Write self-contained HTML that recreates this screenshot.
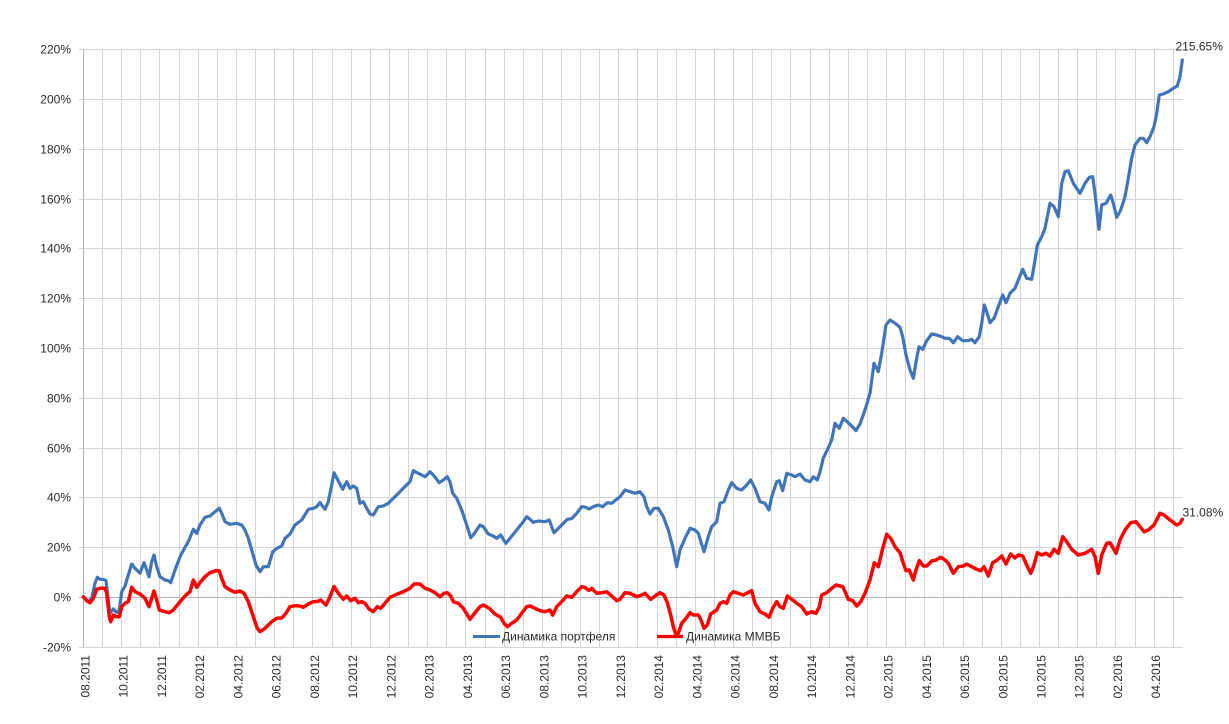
<!DOCTYPE html>
<html>
<head>
<meta charset="utf-8">
<style>
html,body{margin:0;padding:0;background:#fff;}
svg{display:block;}
text{font-family:"Liberation Sans",Arial,sans-serif;font-size:12px;fill:#2b2b2b;}
</style>
</head>
<body>
<svg width="1229" height="724" viewBox="0 0 1229 724" xmlns="http://www.w3.org/2000/svg">
<path fill="none" stroke="#d4d4d4" stroke-width="1" shape-rendering="crispEdges" d="M102.5 49V647M121.5 49V647M140.5 49V647M159.5 49V647M179.5 49V647M198.5 49V647M217.5 49V647M236.5 49V647M255.5 49V647M274.5 49V647M293.5 49V647M312.5 49V647M332.5 49V647M351.5 49V647M370.5 49V647M389.5 49V647M408.5 49V647M427.5 49V647M446.5 49V647M465.5 49V647M485.5 49V647M504.5 49V647M523.5 49V647M542.5 49V647M561.5 49V647M580.5 49V647M599.5 49V647M618.5 49V647M637.5 49V647M657.5 49V647M676.5 49V647M695.5 49V647M714.5 49V647M733.5 49V647M752.5 49V647M771.5 49V647M790.5 49V647M810.5 49V647M829.5 49V647M848.5 49V647M867.5 49V647M886.5 49V647M905.5 49V647M924.5 49V647M943.5 49V647M963.5 49V647M982.5 49V647M1001.5 49V647M1020.5 49V647M1039.5 49V647M1058.5 49V647M1077.5 49V647M1096.5 49V647M1115.5 49V647M1135.5 49V647M1154.5 49V647M1173.5 49V647M79 647.5H1183M79 547.5H1183M79 497.5H1183M79 448.5H1183M79 398.5H1183M79 348.5H1183M79 298.5H1183M79 248.5H1183M79 199.5H1183M79 149.5H1183M79 99.5H1183M79 49.5H1183"/>
<path fill="none" stroke="#b5b5b5" stroke-width="1" shape-rendering="crispEdges" d="M79 597.5H1183M83.5 49V647"/>
<g text-anchor="end">
<text x="71" y="53.5">220%</text>
<text x="71" y="103.5">200%</text>
<text x="71" y="153.5">180%</text>
<text x="71" y="203.5">160%</text>
<text x="71" y="252.5">140%</text>
<text x="71" y="302.5">120%</text>
<text x="71" y="352.5">100%</text>
<text x="71" y="402.5">80%</text>
<text x="71" y="452.5">60%</text>
<text x="71" y="501.5">40%</text>
<text x="71" y="551.5">20%</text>
<text x="71" y="601.5">0%</text>
<text x="71" y="651.5">-20%</text>
</g>
<g text-anchor="end">
<text transform="translate(89.5,655) rotate(-90)">08.2011</text>
<text transform="translate(127.7,655) rotate(-90)">10.2011</text>
<text transform="translate(166,655) rotate(-90)">12.2011</text>
<text transform="translate(204.2,655) rotate(-90)">02.2012</text>
<text transform="translate(242.5,655) rotate(-90)">04.2012</text>
<text transform="translate(280.7,655) rotate(-90)">06.2012</text>
<text transform="translate(318.9,655) rotate(-90)">08.2012</text>
<text transform="translate(357.2,655) rotate(-90)">10.2012</text>
<text transform="translate(395.4,655) rotate(-90)">12.2012</text>
<text transform="translate(433.7,655) rotate(-90)">02.2013</text>
<text transform="translate(471.9,655) rotate(-90)">04.2013</text>
<text transform="translate(510.1,655) rotate(-90)">06.2013</text>
<text transform="translate(548.4,655) rotate(-90)">08.2013</text>
<text transform="translate(586.6,655) rotate(-90)">10.2013</text>
<text transform="translate(624.9,655) rotate(-90)">12.2013</text>
<text transform="translate(663.1,655) rotate(-90)">02.2014</text>
<text transform="translate(701.3,655) rotate(-90)">04.2014</text>
<text transform="translate(739.6,655) rotate(-90)">06.2014</text>
<text transform="translate(777.8,655) rotate(-90)">08.2014</text>
<text transform="translate(816.1,655) rotate(-90)">10.2014</text>
<text transform="translate(854.3,655) rotate(-90)">12.2014</text>
<text transform="translate(892.5,655) rotate(-90)">02.2015</text>
<text transform="translate(930.8,655) rotate(-90)">04.2015</text>
<text transform="translate(969,655) rotate(-90)">06.2015</text>
<text transform="translate(1007.3,655) rotate(-90)">08.2015</text>
<text transform="translate(1045.5,655) rotate(-90)">10.2015</text>
<text transform="translate(1083.7,655) rotate(-90)">12.2015</text>
<text transform="translate(1122,655) rotate(-90)">02.2016</text>
<text transform="translate(1160.2,655) rotate(-90)">04.2016</text>
</g>
<polyline fill="none" stroke="#4174b9" stroke-width="3.2" stroke-linejoin="round" stroke-linecap="round" points="83.3,596.7 88.3,601.7 91.7,598.3 95,583.3 97.3,577.3 100,579.3 103.3,579.3 106,580.7 108.3,600 110,613.3 113.3,609 116.7,612.7 119.3,610 121.7,591.7 125,586 128.3,575 131.7,564 135,568.3 140,573.3 144,562.7 146.7,570 149,576.7 151.7,561.7 154,555 156.7,566.7 160,576.7 165,580 168.3,580.7 170.7,582.7 175,570 180,556.7 185,547.3 188.3,541.7 193.3,529.3 196.7,533.3 200,525 205,517.3 210,516 215,511.7 219.3,508.3 221.7,513.3 225,521.7 230,524.3 236.7,523.3 241.7,525 245,530 248.3,538.3 251.7,550 256,565 260,571.7 263.3,566.7 268.3,566.7 272.7,551.7 276.7,548.3 281.7,546 285,538.3 290,534 295,525 301.7,520 308.3,509.3 313.3,508.3 316.7,506.7 320,502.7 325,509.3 328.3,501.7 331.7,485 334,472.7 338.3,481 342.7,489.3 346.7,481.7 350,488.3 353.3,486 356.7,488.3 360,503.3 363.3,501.7 366.7,508.3 370,514 373.3,515 378.3,506.7 383.3,506 388.3,503.3 396.7,495 403.3,488.3 410,481.7 413.3,470.7 418.3,473.3 425,476.7 430,471.7 433.3,475 439.3,482.7 443.3,480 447.3,476.7 450,481.7 452.7,493.3 456.7,498.3 461.7,510 466.7,525 470.7,537.7 474,534 480,525 483.3,526.7 488.3,534 493.3,536 496.7,538.3 500.7,535 503.3,539.3 506,543.3 510,538.3 516.7,530 523.3,521.7 526.7,516.7 530,519.3 533.3,522.3 538.3,521 545,521.7 549.3,520 551.7,526.7 554,532.7 556.7,530 561.7,525 567.3,519.3 571.7,518.7 576.7,513.3 581.7,506.7 585,507 589,509 593.3,506.7 598.3,505 602.7,506.7 607.3,502.7 611.7,503.3 616.7,499.3 620,496.7 625,490 630,491.7 635,493.3 640,491.7 644,496.7 646.7,506.7 650,514 654,508.3 658.3,508.3 663.3,516.7 668.3,530 672.7,546.7 676.7,566.7 680,550 685,538.3 690,528.3 695,530 698.3,533.3 704,551.7 708.3,536.7 711.7,526.7 716.7,521.7 720,503.3 724,501.7 728.3,490 731.7,482.7 736.7,488.3 741.7,490 746.7,485 750.7,480 755,488.3 760,501.7 765,503.3 769,510 771.7,496.7 776.7,481.7 779.3,480.7 782.7,490.7 786.7,473.3 791.7,475 795,476.7 800,474 805,480 810,481.7 813.3,476.7 817.3,480 820,472 823.3,458 827.3,450 831.7,440 835,423.3 839.3,428.3 843.3,418.3 848.3,422.7 853.3,427.7 856,430.7 860,424 865,410 870,393.3 874,363.3 878.3,371.7 881.7,353.3 886,325 890,320 895,323.3 900,327.3 902.7,336.7 906,355 910,370 913.3,378.3 916.7,358.3 919,346.7 922.7,349.3 926.7,340.7 931.7,334 936.7,335 941.7,336.7 945,338.3 949.3,338.3 953.3,342.7 957.7,336.7 962.7,340.7 968.3,340.7 971.7,339.3 975,342.7 979.3,336.7 981.7,323.3 984.3,305 986.7,311.7 990,322.7 994,318.3 998.3,306.7 1002.7,295 1006,302.7 1010,293.3 1015,288.3 1018.3,280 1022.7,269.3 1026.7,278.3 1031.7,279.3 1035,260 1037.3,245 1041.7,236.7 1045,228.3 1050,203.3 1054,206.7 1058.3,216.7 1061.7,183.3 1065,171.7 1068.3,170.7 1073.3,183.3 1080,193.3 1085,183.3 1089.3,177.3 1092.7,176.7 1095,193.3 1099,229.3 1101.7,205 1106,203.3 1110.7,195 1113.3,203.3 1116.7,217.3 1120.7,210 1125,196.7 1128.3,178.3 1131.7,158 1135,145 1140,138.3 1143.3,138.3 1146.7,142.7 1150,136.7 1154,126.7 1156.7,113.3 1159.3,95 1163.3,94 1168.3,91.7 1173.3,88.3 1177.3,86 1180,76.7 1182.3,60"/>
<polyline fill="none" stroke="#ff0000" stroke-width="3.5" stroke-linejoin="round" stroke-linecap="round" points="83.3,596.7 86.7,600.7 90,602.7 93.3,598.3 96.7,589.3 100,588.3 105,588.3 106.7,593.3 109.3,616.7 110.7,621.7 113.3,615 116,616.7 119.3,616.7 121.7,606.7 125,603.3 128.3,601.7 131.7,587.3 135,591.7 140,594 145,598.3 149,606.7 151.7,598.3 154,591 156.7,600 159.3,610 165,611.7 169.3,612.7 173.3,610 180,601.7 186,595 190,591.7 193.3,580 196.7,587.3 200.7,581.7 205,576.7 210,572.7 216,570.7 219.3,571 221.7,578.3 225,586.7 230,590 235,592.3 240,591 244,593.3 248.3,601.7 253.3,616.7 257.3,628.3 260,631.7 265,628.3 271.7,621.7 276.7,618.3 281.7,618 286,613.3 290,606.7 295,605.7 300,606 303.3,607.3 308.3,604 313.3,601.7 318.3,601.3 320.7,600 326,605 330,596.7 334,586.5 338.3,593.3 343.3,599.3 346.7,596 350.7,600.7 355,598.3 358.3,602.7 361.7,601.7 365,603.3 369.3,609.3 373.3,611.7 377.3,606.7 380.7,608.3 385,603.3 390,597.3 396.7,594.3 403.3,591.7 410,588.3 414,584 420,584 425,588.3 430,590 435,592.7 440,596.7 444,593.3 447.3,592.7 450.7,596 453.3,601.7 458.3,603.3 463.3,608.3 470,619.3 475,612.7 480,606.7 483.3,605 489.3,608.3 495,614 500.7,617.3 504,623.3 507.3,626.7 511.7,623.3 516.7,620 521.7,613.3 526.7,606.7 530,606 535,608.3 540,610.7 545,611.7 550,610 552.7,615 556.7,606.7 561.7,601.7 566.7,596 571.7,597.3 576.7,591.7 581.7,586.7 585,587.5 589,590.5 591.7,588.3 596.7,593.3 601.7,592.7 606.7,591.7 611.7,596 616.7,600.7 620,599.3 625,592.7 630,593.3 636.7,596.7 641.7,595 645,593.3 650.7,599.3 655,596 660,592.7 664,595 667.3,602.7 670.7,615 673.3,626.7 676,635 678.3,633.3 681.7,623.3 686,618.3 690,612.7 693.3,615 698.3,615 700.7,619.3 704,628.3 707.3,625 710.7,614 716.7,610 720,603.3 723.3,601.7 726.7,603.3 730,595 733.3,591.7 738.3,593.3 743.3,595 747.7,592.7 751.7,590.7 755,603.3 760,611.7 765,614 769,617.3 772.7,608.3 776.7,601.7 780,606.7 783.3,608.3 787.3,596 791.7,599.3 796.7,603.3 801.7,606.7 806.7,614 811.7,611.7 816,613.3 819.3,606.7 821.7,595 826.7,592.7 831.7,588.3 836,585 840,586 842.7,586.7 845,591.7 848.3,599.3 852.7,600.7 856.7,606 860.7,601.7 865,593.3 870,580 874.3,562.7 878.3,566.7 882.7,548.3 886.7,534.3 890.7,538.3 895,546.7 900,552.7 903.3,563.3 906,570.7 909.3,570 913.3,580 916,570 919.3,560.7 923.3,566 926.7,566 931.7,561 936,560 940.7,557.3 945,560 948.3,563.3 953.3,573.3 958.3,566.7 963.3,566 966.7,564 971.7,566.7 976.7,569.3 980.7,570.7 984,566.7 988.3,576 992.7,562.7 997.3,560 1001.7,556 1006,564 1010.7,554 1015,558 1018.3,555 1022.7,556 1026.7,565 1030.7,573.3 1034,565 1037.3,552.7 1041.7,555 1046,553.3 1050,556 1054,549.3 1058.3,553.3 1062.7,536.7 1066.7,541.7 1071.7,549.3 1078.3,555 1085,553.3 1091.7,549.3 1095,556.7 1098.3,573.3 1101.7,555 1106.7,543.3 1110,542.7 1113.3,548.3 1116,553.3 1120,540 1125,530 1130.7,522.7 1136,521.7 1140,526.7 1144,531.7 1148.3,530 1154,525 1160,513.3 1164,515 1170,520 1176.7,525 1180,523.3 1182.3,519.3"/>
<text x="1175.5" y="50.5">215.65%</text>
<text x="1182.5" y="516.5">31.08%</text>
<line x1="473" y1="636.5" x2="500" y2="636.5" stroke="#4174b9" stroke-width="3"/>
<text x="502" y="640.5">Динамика портфеля</text>
<line x1="657" y1="636.5" x2="683" y2="636.5" stroke="#ff0000" stroke-width="3.3"/>
<text x="686" y="640.5">Динамика ММВБ</text>
</svg>
</body>
</html>
